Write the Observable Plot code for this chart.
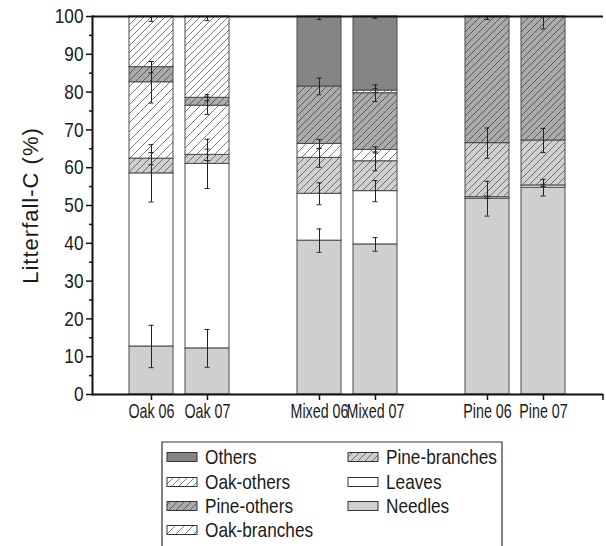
<!DOCTYPE html>
<html><head><meta charset="utf-8">
<script src="https://cdn.jsdelivr.net/npm/d3@7"></script>
<script src="https://cdn.jsdelivr.net/npm/@observablehq/plot@0.6"></script>
<style>
body{margin:0;background:#fff;}
#chart{position:absolute;left:0;top:0;}
#legend{position:absolute;left:161px;top:441px;}
</style></head>
<body><div id="chart"></div><div id="legend"></div>
<script>
const FONT = '"Liberation Sans",Arial,sans-serif';
const FS = 21;          // font size
const SQUEEZE = 0.82;   // horizontal condensing of text
const SQUEEZE_X = 0.68; // tighter condensing of x tick labels (they sit close together)
const sites = ["Oak 06","Oak 07","Mixed 06","Mixed 07","Pine 06","Pine 07"];
const slots = ["Oak 06","Oak 07"," ","Mixed 06","Mixed 07","  ","Pine 06","Pine 07"];
const components = ["Needles","Leaves","Pine-branches","Oak-branches","Pine-others","Oak-others","Others"];
const legendOrder = ["Others","Oak-others","Pine-others","Oak-branches","Pine-branches","Leaves","Needles"];
const yTicks = [0,10,20,30,40,50,60,70,80,90,100];
const yMinorTicks = [5,15,25,35,45,55,65,75,85,95];
const yTitle = "Litterfall-C (%)";

// values (%), bottom to top
const needles      = [12.7, 12.2, 40.7, 39.7, 51.8, 54.7];
const leaves       = [45.8, 48.8, 12.4, 14.1,  0.4,  0.6];
const pineBranches = [ 3.9,  2.4,  9.5,  7.9, 14.3, 11.9];
const oakBranches  = [20.2, 13.0,  3.7,  3.0,  0,    0  ];
const pineOthers   = [ 4.0,  2.1, 15.2, 15.0, 33.5, 32.8];
const oakOthers    = [13.4, 21.5,  0,    0.7,  0,    0  ];
const others       = [ 0,    0,   18.5, 19.6,  0,    0  ];
// error (+/-) at each segment top
const needlesErr      = [5.6, 5.0, 3.1, 1.8, 4.6, 2.2];
const leavesErr       = [7.6, 6.5, 2.9, 2.8, 0.3, 0.3];
const pineBranchesErr = [1.6, 1.5, 2.5, 2.5, 4.0, 3.2];
const oakBranchesErr  = [5.5, 2.3, 1.2, 0.8, 0,   0  ];
const pineOthersErr   = [1.5, 0.8, 2.2, 2.2, 0.8, 3.3];
const oakOthersErr    = [1.3, 1.1, 0,   0.5, 0,   0  ];
const othersErr       = [0,   0,   0.8, 0.5, 0,   0  ];

const series = [needles, leaves, pineBranches, oakBranches, pineOthers, oakOthers, others];
const errs = [needlesErr, leavesErr, pineBranchesErr, oakBranchesErr, pineOthersErr, oakOthersErr, othersErr];

const rows = [];
const errRows = [];
sites.forEach((s, i) => {
  let cum = 0;
  components.forEach((c, k) => {
    const v = series[k][i];
    if (v > 0) {
      rows.push({site: s, component: c, value: v});
      cum += v;
      if (errs[k][i] > 0) errRows.push({site: s, top: cum, err: errs[k][i]});
    }
  });
});

// fill styles
const patterns = {
  "Pine-branches": {bg: "#cfcfcf", line: "#6e6e6e", s: 7},
  "Oak-branches":  {bg: "#ffffff", line: "#7a7a7a", s: 9},
  "Pine-others":   {bg: "#ababab", line: "#5a5a5a", s: 7},
  "Oak-others":    {bg: "#ffffff", line: "#7a7a7a", s: 7}
};
const solid = {"Needles": "#cfcfcf", "Leaves": "#ffffff", "Others": "#858585"};
function pid(prefix, c){ return prefix + c.replace(/[^a-z]/gi, ""); }
function fillFor(prefix, c){ return solid[c] || `url(#${pid(prefix, c)})`; }
function addDefs(svgSel, prefix){
  const defs = svgSel.insert("defs", ":first-child");
  for (const [c, p] of Object.entries(patterns)) {
    const s = p.s;
    const pat = defs.append("pattern").attr("id", pid(prefix, c))
      .attr("patternUnits", "userSpaceOnUse").attr("width", s).attr("height", s);
    pat.append("rect").attr("width", s).attr("height", s).attr("fill", p.bg);
    pat.append("path").attr("d", `M0,${s}L${s},0M${-s/2},${s/2}L${s/2},${-s/2}M${s/2},${s*1.5}L${s*1.5},${s/2}`)
      .attr("stroke", p.line).attr("stroke-width", 1).attr("fill", "none");
  }
}
function condense(nodes, k){
  nodes.forEach(t => {
    let tr = t.getAttribute("transform") || "";
    const xa = t.getAttribute("x");
    if (xa != null && xa !== "" && !isNaN(+xa)) { tr += ` translate(${+xa},0)`; t.setAttribute("x", 0); }
    t.setAttribute("transform", `${tr} scale(${k},1)`);
  });
}

const chart = Plot.plot({
  width: 606, height: 432,
  marginLeft: 92, marginRight: 3, marginTop: 16, marginBottom: 38,
  style: {fontFamily: FONT, fontSize: FS + "px", color: "#1a1a1a", background: "#fff"},
  x: {domain: slots, paddingInner: 0.206, paddingOuter: 0.618, axis: null},
  y: {domain: [0, 100], axis: null},
  color: {domain: components, range: components.map(c => fillFor("p", c))},
  marks: [
    Plot.barY(rows, {x: "site", y: "value", fill: "component", order: components, stroke: "#4a4a4a", strokeWidth: 1}),
    Plot.ruleX(errRows, {x: "site", y1: d => d.top - d.err, y2: d => d.top + d.err, stroke: "#222", strokeWidth: 1, clip: true}),
    Plot.tickY(errRows, {x: "site", y: d => d.top - d.err, insetLeft: 19.5, insetRight: 19.5, stroke: "#222", clip: true}),
    Plot.tickY(errRows, {x: "site", y: d => d.top + d.err, insetLeft: 19.5, insetRight: 19.5, stroke: "#222", clip: true}),
    Plot.ruleY([0, 100], {stroke: "#111", strokeWidth: 2}),
    Plot.frame({anchor: "left", stroke: "#111", strokeWidth: 2}),
    Plot.axisY({ticks: yTicks, tickSize: 6, tickPadding: 3, label: null, fontSize: FS, stroke: "#111", strokeWidth: 1.5}),
    Plot.axisY({ticks: yMinorTicks, tickSize: 3, tickFormat: () => "", label: null, stroke: "#111", strokeWidth: 1.5}),
    Plot.axisX({ticks: sites, tickSize: 6, tickPadding: 3, label: null, fontSize: FS, stroke: "#111", strokeWidth: 1.5}),
    Plot.text([yTitle], {frameAnchor: "left", dx: -62, rotate: -90, textAnchor: "middle", fontSize: 22, fill: "#1a1a1a"})
  ]
});
const svg = d3.select(chart);
addDefs(svg, "p");
// closing tick at the right end of the x axis
const xr = chart.scale("x").range, yr = chart.scale("y").range;
svg.append("line").attr("x1", xr[1]).attr("x2", xr[1]).attr("y1", yr[0]).attr("y2", yr[0] + 6)
  .attr("stroke", "#111").attr("stroke-width", 1.5);
const allText = Array.from(chart.querySelectorAll("text"));
const xLabels = allText.filter(t => sites.includes(t.textContent));
const titleText = allText.filter(t => t.textContent === yTitle);
titleText.forEach(t => t.style.letterSpacing = "1px");
condense(xLabels, SQUEEZE_X);
condense(allText.filter(t => !xLabels.includes(t) && !titleText.includes(t)), SQUEEZE);
document.getElementById("chart").append(chart);

// legend
const lw = 343, lh = 106;
const lsvg = d3.select("#legend").append("svg").attr("width", lw).attr("height", lh)
  .style("font-family", FONT).style("font-size", FS + "px");
addDefs(lsvg, "l");
lsvg.append("path").attr("d", `M1,${lh}V1H${lw-2}V${lh}`).attr("fill", "none").attr("stroke", "#333").attr("stroke-width", 1.2);
const rowY = [16, 41, 65, 89];
legendOrder.forEach((c, i) => {
  const col = i < 4 ? 0 : 1, r = i < 4 ? i : i - 4;
  const sx = col === 0 ? 6 : 187;
  const y = rowY[r];
  lsvg.append("rect").attr("x", sx).attr("y", y - 4.5).attr("width", 30).attr("height", 9)
    .attr("fill", fillFor("l", c)).attr("stroke", "#333").attr("stroke-width", 1);
  lsvg.append("text").attr("x", sx + 38).attr("y", y).attr("dy", "0.35em").attr("fill", "#1a1a1a").text(c);
});
condense(Array.from(lsvg.node().querySelectorAll("text")), SQUEEZE);
</script>
</body></html>
